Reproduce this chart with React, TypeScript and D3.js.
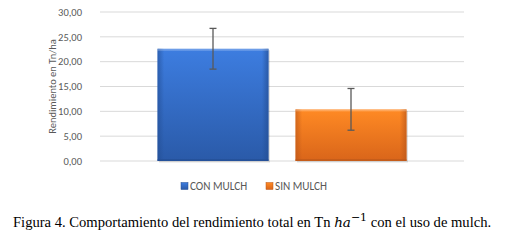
import React from "react";
import * as d3 from "d3";

const categories = ["CON MULCH", "SIN MULCH"];
const values = [22.6, 10.4];
const errors = [4.1, 4.2];
const yTicks = [0, 5, 10, 15, 20, 25, 30];
const colors = [
  { top: "#3d7de0", bottom: "#2a5aa8", edge: "#234d92" },
  { top: "#ff8a24", bottom: "#d9651a", edge: "#b9561a" },
];

export default function App() {
  const W = 509, H = 240;
  const plotL = 100, plotR = 464;
  const y = d3.scaleLinear().domain([0, 30]).range([161, 12]);
  const x = d3.scaleBand<string>().domain(categories).range([144, 420]).paddingInner(0.196).paddingOuter(0.098);
  const fmt = (v: number) => v.toFixed(2).replace(".", ",");
  const font = "Carlito, 'Open Sans', 'Liberation Sans', sans-serif";
  const legendX = [181, 266];
  return (
    <svg width={W} height={H} style={{ position: "absolute", left: 0, top: 0, background: "#fff" }}>
      <defs>
        {colors.map((c, i) => (
          <linearGradient key={i} id={`g${i}`} x1="0" y1="0" x2="0" y2="1">
            <stop offset="0" stopColor={c.top} />
            <stop offset="1" stopColor={c.bottom} />
          </linearGradient>
        ))}
        {colors.map((c, i) => (
          <linearGradient key={"h" + i} id={`h${i}`} x1="0" y1="0" x2="1" y2="0">
            <stop offset="0" stopColor={c.edge} stopOpacity="0.6" />
            <stop offset="0.06" stopColor={c.edge} stopOpacity="0" />
            <stop offset="0.94" stopColor={c.edge} stopOpacity="0" />
            <stop offset="1" stopColor={c.edge} stopOpacity="0.7" />
          </linearGradient>
        ))}
      </defs>
      {yTicks.map((t) => (
        <g key={t}>
          <line x1={plotL} x2={plotR} y1={y(t)} y2={y(t)} stroke="#d9d9d9" strokeWidth={1} />
          <text x={82} y={y(t)} dy="0.35em" textAnchor="end" fontSize={10.5} fill="#595959" fontFamily={font}>
            {fmt(t)}
          </text>
        </g>
      ))}
      <text
        transform={`translate(56,${(y(0) + y(30)) / 2}) rotate(-90)`}
        textAnchor="middle"
        fontSize={10.5}
        fill="#595959"
        fontFamily={font}
      >
        Rendimiento en Tn/ha
      </text>
      {categories.map((c, i) => {
        const bx = x(c)!;
        const bw = x.bandwidth();
        const top = y(values[i]);
        const h = y(0) - top;
        const cx = bx + bw / 2;
        return (
          <g key={c}>
            <rect x={bx + 1.5} y={top + 1.5} width={bw} height={h} fill="#000" opacity={0.12} />
            <rect x={bx} y={top} width={bw} height={h} fill={`url(#g${i})`} />
            <rect x={bx} y={top} width={bw} height={h} fill={`url(#h${i})`} />
            <rect x={bx} y={top} width={bw} height={2} fill="#fff" opacity={0.25} />
            <rect x={bx} y={y(0) - 2} width={bw} height={2} fill={colors[i].edge} opacity={0.6} />
            <line x1={cx} x2={cx} y1={y(values[i] + errors[i])} y2={y(values[i] - errors[i])} stroke="#595959" strokeWidth={1.3} />
            <line x1={cx - 3.5} x2={cx + 3.5} y1={y(values[i] + errors[i])} y2={y(values[i] + errors[i])} stroke="#595959" strokeWidth={1.3} />
            <line x1={cx - 3.5} x2={cx + 3.5} y1={y(values[i] - errors[i])} y2={y(values[i] - errors[i])} stroke="#595959" strokeWidth={1.3} />
          </g>
        );
      })}
      {categories.map((c, i) => (
        <g key={"l" + c}>
          <rect x={legendX[i]} y={182.5} width={7} height={7} fill={`url(#g${i})`} stroke={colors[i].edge} strokeWidth={0.5} />
          <text x={legendX[i] + 9} y={186} dy="0.35em" fontSize={11.2} fill="#595959" fontFamily={font}>
            {c}
          </text>
        </g>
      ))}
      <text x={13} y={227} fontSize={14.6} fill="#000" fontFamily="'Liberation Serif', 'Times New Roman', serif">
        Figura 4. Comportamiento del rendimiento total en Tn{" "}
        <tspan fontStyle="italic" fontFamily="'DejaVu Serif', serif" fontSize={13.5}>ha</tspan>
        <tspan dy={-6} fontSize={11} fontFamily="'DejaVu Serif', serif">−1</tspan>
        <tspan dy={6}> con el uso de mulch.</tspan>
      </text>
    </svg>
  );
}
